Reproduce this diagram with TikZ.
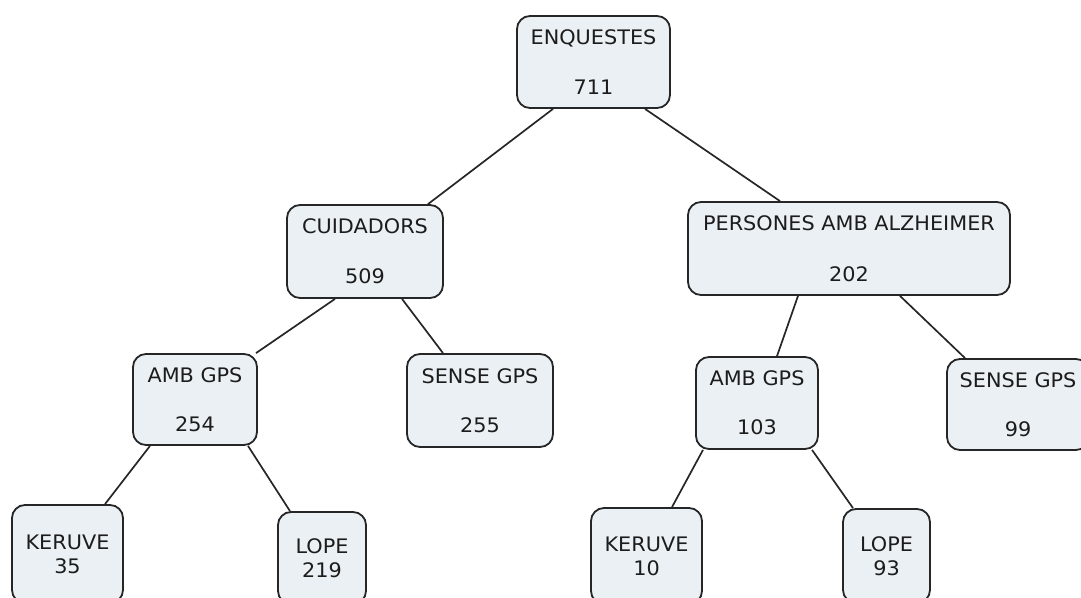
\documentclass[tikz,border=0pt]{standalone}
\usepackage{fontspec}
\setmainfont{DejaVu Sans}[FakeStretch=1.04]
\usetikzlibrary{backgrounds}
\definecolor{boxfill}{HTML}{EAF0F4}
\definecolor{boxline}{HTML}{262626}
\definecolor{txt}{HTML}{1C1C1C}
\begin{document}
\begin{tikzpicture}[x=1pt,y=-1pt,
  box/.style={draw=boxline,fill=boxfill,line width=1.8pt,rounded corners=13pt,
    align=center,text=txt,inner sep=0pt,font=\fontsize{20}{24}\selectfont},
  link/.style={draw=boxline,line width=1.7pt}]
\useasboundingbox (0,0) rectangle (1081,597);

% top level
\node[box,minimum width=153pt,minimum height=92pt] (root) at (593.5,62) {ENQUESTES\\[26pt]711};

% second level
\node[box,minimum width=156pt,minimum height=93pt] (cuid) at (365,251.5) {CUIDADORS\\[26pt]509};
\node[box,minimum width=322pt,minimum height=93pt] (pers) at (849,248.5) {PERSONES AMB ALZHEIMER\\[27pt]202};

% third level
\node[box,minimum width=124pt,minimum height=91pt] (amb1) at (195,399.5) {AMB GPS\\[25pt]254};
\node[box,minimum width=146pt,minimum height=93pt] (sense1) at (480,400.5) {SENSE GPS\\[25pt]255};
\node[box,minimum width=122pt,minimum height=92pt] (amb2) at (757,403) {AMB GPS\\[25pt]103};
\node[box,minimum width=142pt,minimum height=91pt] (sense2) at (1018,404.5) {SENSE GPS\\[25pt]99};

% bottom level
\node[box,minimum width=111pt,minimum height=98pt] (ker1) at (67.5,554) {KERUVE\\35};
\node[box,minimum width=88pt,minimum height=92pt] (lope1) at (322,558) {LOPE\\219};
\node[box,minimum width=111pt,minimum height=96pt] (ker2) at (646.5,556) {KERUVE\\10};
\node[box,minimum width=87pt,minimum height=94pt] (lope2) at (886.5,556) {LOPE\\93};

% connectors, drawn behind the boxes
\begin{scope}[on background layer]
\draw[link] ([xshift=-40.5pt]root.south) -- ([xshift=63pt]cuid.north);
\draw[link] ([xshift=51.5pt]root.south) -- ([xshift=-69pt]pers.north);
\draw[link] ([xshift=-30pt]cuid.south) -- ([xshift=61pt]amb1.north);
\draw[link] ([xshift=37pt]cuid.south) -- ([xshift=-37pt]sense1.north);
\draw[link] ([xshift=-51pt]pers.south) -- ([xshift=20pt]amb2.north);
\draw[link] ([xshift=51pt]pers.south) -- ([xshift=-53pt]sense2.north);
\draw[link] ([xshift=-45pt]amb1.south) -- ([xshift=37.5pt]ker1.north);
\draw[link] ([xshift=53pt]amb1.south) -- ([xshift=-32pt]lope1.north);
\draw[link] ([xshift=-54pt]amb2.south) -- ([xshift=25.5pt]ker2.north);
\draw[link] ([xshift=55pt]amb2.south) -- ([xshift=-33.5pt]lope2.north);
\end{scope}
\end{tikzpicture}
\end{document}
